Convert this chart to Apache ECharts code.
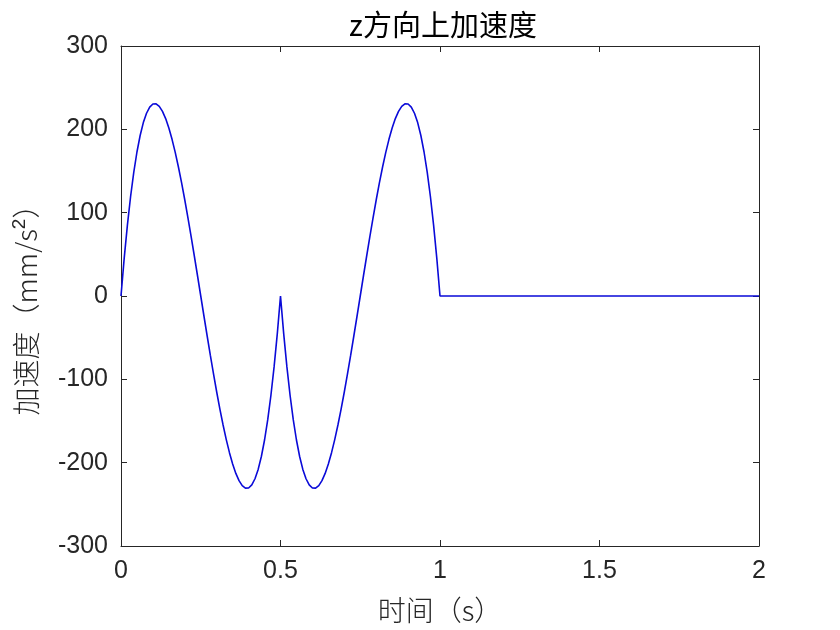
<!DOCTYPE html>
<html><head><meta charset="utf-8">
<script src="https://cdn.jsdelivr.net/npm/echarts@6/dist/echarts.min.js"></script>
<style>html,body{margin:0;padding:0;background:#fff}#c{width:840px;height:630px}</style>
</head><body><div id="c"></div>
<script>
const titleText = 'z方向上加速度';
const xName = '时间（s）';
const xTicks = [0, 0.5, 1, 1.5, 2];
const yTicks = [-300, -200, -100, 0, 100, 200, 300];
const timeS = [0,0.01,0.02,0.03,0.04,0.05,0.06,0.07,0.08,0.09,0.1,0.11,0.12,0.13,0.14,0.15,0.16,0.17,0.18,0.19,0.2,0.21,0.22,0.23,0.24,0.25,0.26,0.27,0.28,0.29,0.3,0.31,0.32,0.33,0.34,0.35,0.36,0.37,0.38,0.39,0.4,0.41,0.42,0.43,0.44,0.45,0.46,0.47,0.48,0.49,0.5,
0.51,0.52,0.53,0.54,0.55,0.56,0.57,0.58,0.59,0.6,0.61,0.62,0.63,0.64,0.65,0.66,0.67,0.68,0.69,0.7,0.71,0.72,0.73,0.74,0.75,0.76,0.77,0.78,0.79,0.8,0.81,0.82,0.83,0.84,0.85,0.86,0.87,0.88,0.89,0.9,0.91,0.92,0.93,0.94,0.95,0.96,0.97,0.98,0.99,1.0,2.0];
const accel = [0,45.2,84.8,119.1,148.4,172.8,192.6,208.1,219.3,226.7,230.4,230.6,227.6,221.6,212.9,201.6,188.0,172.3,154.8,135.7,115.2,93.5,71.0,47.7,24.0,0,-24.0,-47.7,-71.0,-93.5,-115.2,-135.7,-154.8,-172.3,-188.0,-201.6,-212.9,-221.6,-227.6,-230.6,-230.4,-226.7,-219.3,-208.1,-192.6,-172.8,-148.4,-119.1,-84.8,-45.2,0,
-45.2,-84.8,-119.1,-148.4,-172.8,-192.6,-208.1,-219.3,-226.7,-230.4,-230.6,-227.6,-221.6,-212.9,-201.6,-188.0,-172.3,-154.8,-135.7,-115.2,-93.5,-71.0,-47.7,-24.0,0,24.0,47.7,71.0,93.5,115.2,135.7,154.8,172.3,188.0,201.6,212.9,221.6,227.6,230.6,230.4,226.7,219.3,208.1,192.6,172.8,148.4,119.1,84.8,45.2,0,0];

const chart = echarts.init(document.getElementById('c'), null, {renderer:'canvas'});
const lineC = '#262626';
const fontF = 'Liberation Sans, Arial, sans-serif';
const cjkF = '"Noto Sans CJK SC", sans-serif';
const axisBase = {
  axisLine: {show:true, onZero:false, lineStyle:{color:lineC, width:1}},
  axisTick: {show:true, inside:true, length:6, lineStyle:{color:lineC}},
  splitLine: {show:false}
};
chart.setOption({
  animation:false,
  backgroundColor:'#fff',
  title:{text:titleText, left:438, top:5, textAlign:'center',
    textStyle:{fontFamily:cjkF, fontSize:29, fontWeight:'normal', color:'#000'}},
  grid:{left:121, right:81, top:46, bottom:84},
  xAxis:[
    Object.assign({type:'value', min:xTicks[0], max:xTicks[xTicks.length-1], interval:0.5, position:'bottom',
      name:xName, nameLocation:'middle', nameGap:50,
      nameTextStyle:{fontFamily:cjkF, fontSize:28, fontWeight:300, color:lineC},
      axisLabel:{fontFamily:fontF, fontSize:25, color:lineC, margin:13}}, axisBase),
    Object.assign({type:'value', min:0, max:2, interval:0.5, position:'top', axisLabel:{show:false}}, axisBase)
  ],
  yAxis:[
    Object.assign({type:'value', min:yTicks[0], max:yTicks[yTicks.length-1], interval:100, position:'left',
      name:'{a|加速度（mm/s}{s|2}{a|）}', nameLocation:'middle', nameGap:79, nameRotate:90,
      nameTextStyle:{padding:[0,14,0,0], rich:{
        a:{fontFamily:cjkF, fontSize:28, fontWeight:300, color:lineC, lineHeight:32},
        s:{fontFamily:fontF, fontSize:19, color:lineC, verticalAlign:'top', lineHeight:32, padding:[0,0,12,0]}
      }},
      axisLabel:{fontFamily:fontF, fontSize:25, color:lineC, margin:13}}, axisBase),
    Object.assign({type:'value', min:-300, max:300, interval:100, position:'right', axisLabel:{show:false}}, axisBase)
  ],
  series:[{
    type:'line', xAxisIndex:0, yAxisIndex:0, showSymbol:false, symbol:'none',
    lineStyle:{color:'#0a0ad8', width:1.6},
    data: timeS.map((t,i)=>[t, accel[i]])
  }]
});
</script></body></html>
